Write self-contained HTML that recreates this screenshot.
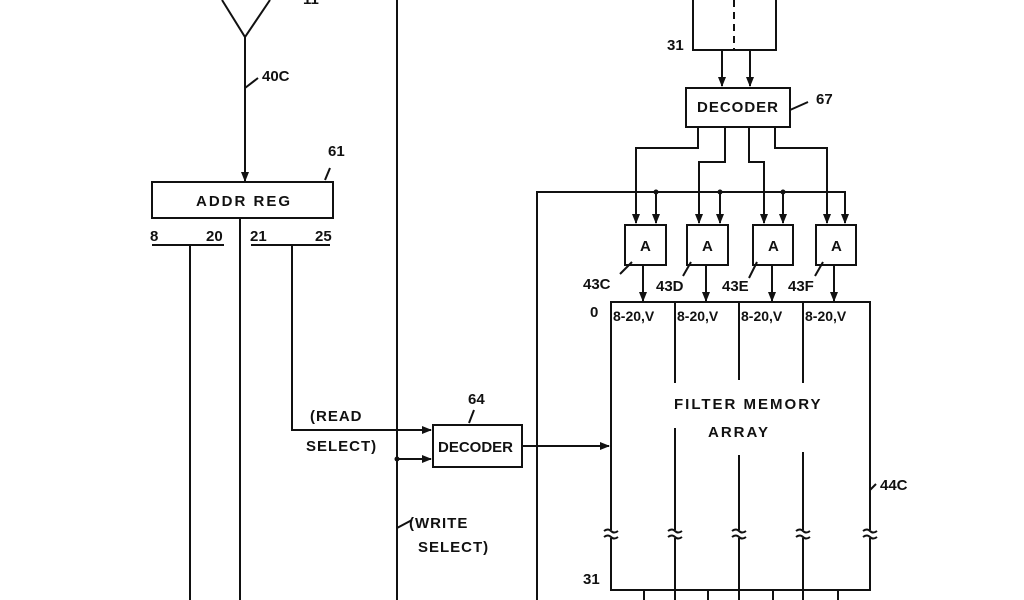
<!DOCTYPE html>
<html><head><style>body{margin:0;background:#fff}svg{display:block}text{font-family:"Liberation Sans",sans-serif;font-weight:bold;fill:#111}</style></head><body>
<svg width="1024" height="600" viewBox="0 0 1024 600" xmlns="http://www.w3.org/2000/svg">
<defs><marker id="a" markerWidth="10" markerHeight="8" refX="9" refY="4" orient="auto" markerUnits="userSpaceOnUse"><path d="M0,0L10,4L0,8z" fill="#111"/></marker></defs>
<g stroke="#111" stroke-width="2" fill="none">
<path d="M222,0L245,37L270,0"/>
<path d="M245,37V181" marker-end="url(#a)"/>
<path d="M245,88L258,78"/>
<rect x="152" y="182" width="181" height="36"/>
<path d="M325,180L330,168"/>
<path d="M152,245H224M251,245H330"/>
<path d="M190,245V600M240,218V600"/>
<path d="M292,245V430H431" marker-end="url(#a)"/>
<path d="M397,0V600"/>
<path d="M397,459H431" marker-end="url(#a)"/>
<rect x="433" y="425" width="89" height="42"/>
<path d="M469,423L474,410"/>
<path d="M522,446H609" marker-end="url(#a)"/>
<path d="M397,528L412,520"/>
<path d="M537,600V192H845V223" marker-end="url(#a)"/>
<rect x="693" y="-2" width="83" height="52"/>
<path d="M734,0V50" stroke-dasharray="7,5"/>
<path d="M722,50V86" marker-end="url(#a)"/>
<path d="M750,50V86" marker-end="url(#a)"/>
<rect x="686" y="88" width="104" height="39"/>
<path d="M790,110L808,102"/>
<path d="M698,127V148H636V223" marker-end="url(#a)"/>
<path d="M725,127V162H699V223" marker-end="url(#a)"/>
<path d="M749,127V162H764V223" marker-end="url(#a)"/>
<path d="M775,127V148H827V223" marker-end="url(#a)"/>
<path d="M656,192V223" marker-end="url(#a)"/>
<path d="M720,192V223" marker-end="url(#a)"/>
<path d="M783,192V223" marker-end="url(#a)"/>
<rect x="625" y="225" width="41" height="40"/>
<rect x="687" y="225" width="41" height="40"/>
<rect x="753" y="225" width="40" height="40"/>
<rect x="816" y="225" width="40" height="40"/>
<path d="M643,265V301" marker-end="url(#a)"/>
<path d="M706,265V301" marker-end="url(#a)"/>
<path d="M772,265V301" marker-end="url(#a)"/>
<path d="M834,265V301" marker-end="url(#a)"/>
<path d="M620,274L632,262M683,276L691,262M749,278L757,262M815,276L823,262"/>
<path d="M611,302H870V590H611Z"/>
<path d="M675,302V383M675,428V600M739,302V380M739,455V600M803,302V383M803,452V600"/>
<path d="M870,490L876,484"/>
<path d="M644,590V600M708,590V600M773,590V600M838,590V600"/>
</g>
<g fill="#111"><circle cx="397" cy="459" r="2.5"/><circle cx="656" cy="192" r="2.5"/><circle cx="720" cy="192" r="2.5"/><circle cx="783" cy="192" r="2.5"/></g>
<g stroke="#fff" stroke-width="6"><path d="M611,530V538M675,530V538M739,530V538M803,530V538M870,530V538"/></g>
<g stroke="#111" stroke-width="2" fill="none">
<path d="M604,531q4,-3 7,0t7,0M604,537q4,-3 7,0t7,0"/>
<path d="M668,531q4,-3 7,0t7,0M668,537q4,-3 7,0t7,0"/>
<path d="M732,531q4,-3 7,0t7,0M732,537q4,-3 7,0t7,0"/>
<path d="M796,531q4,-3 7,0t7,0M796,537q4,-3 7,0t7,0"/>
<path d="M863,531q4,-3 7,0t7,0M863,537q4,-3 7,0t7,0"/>
</g>
<g font-size="15">
<text x="303" y="4">11</text>
<text x="262" y="81">40C</text>
<text x="328" y="156">61</text>
<text x="196" y="206" letter-spacing="2">ADDR REG</text>
<text x="150" y="241">8</text><text x="206" y="241">20</text><text x="250" y="241">21</text><text x="315" y="241">25</text>
<text x="310" y="421" letter-spacing="1">(READ</text>
<text x="306" y="451" letter-spacing="1">SELECT)</text>
<text x="468" y="404">64</text>
<text x="438" y="452">DECODER</text>
<text x="409" y="528" letter-spacing="1">(WRITE</text>
<text x="418" y="552" letter-spacing="1">SELECT)</text>
<text x="667" y="50">31</text>
<text x="697" y="112" letter-spacing="1">DECODER</text>
<text x="816" y="104">67</text>
<text x="640" y="251">A</text><text x="702" y="251">A</text><text x="768" y="251">A</text><text x="831" y="251">A</text>
<text x="583" y="289">43C</text><text x="656" y="291">43D</text><text x="722" y="291">43E</text><text x="788" y="291">43F</text>
<text x="590" y="317">0</text>
<g font-size="14"><text x="613" y="321">8-20,V</text><text x="677" y="321">8-20,V</text><text x="741" y="321">8-20,V</text><text x="805" y="321">8-20,V</text></g>
<text x="674" y="409" letter-spacing="2">FILTER MEMORY</text>
<text x="708" y="437" letter-spacing="2">ARRAY</text>
<text x="880" y="490">44C</text>
<text x="583" y="584">31</text>
</g>
</svg>
</body></html>
